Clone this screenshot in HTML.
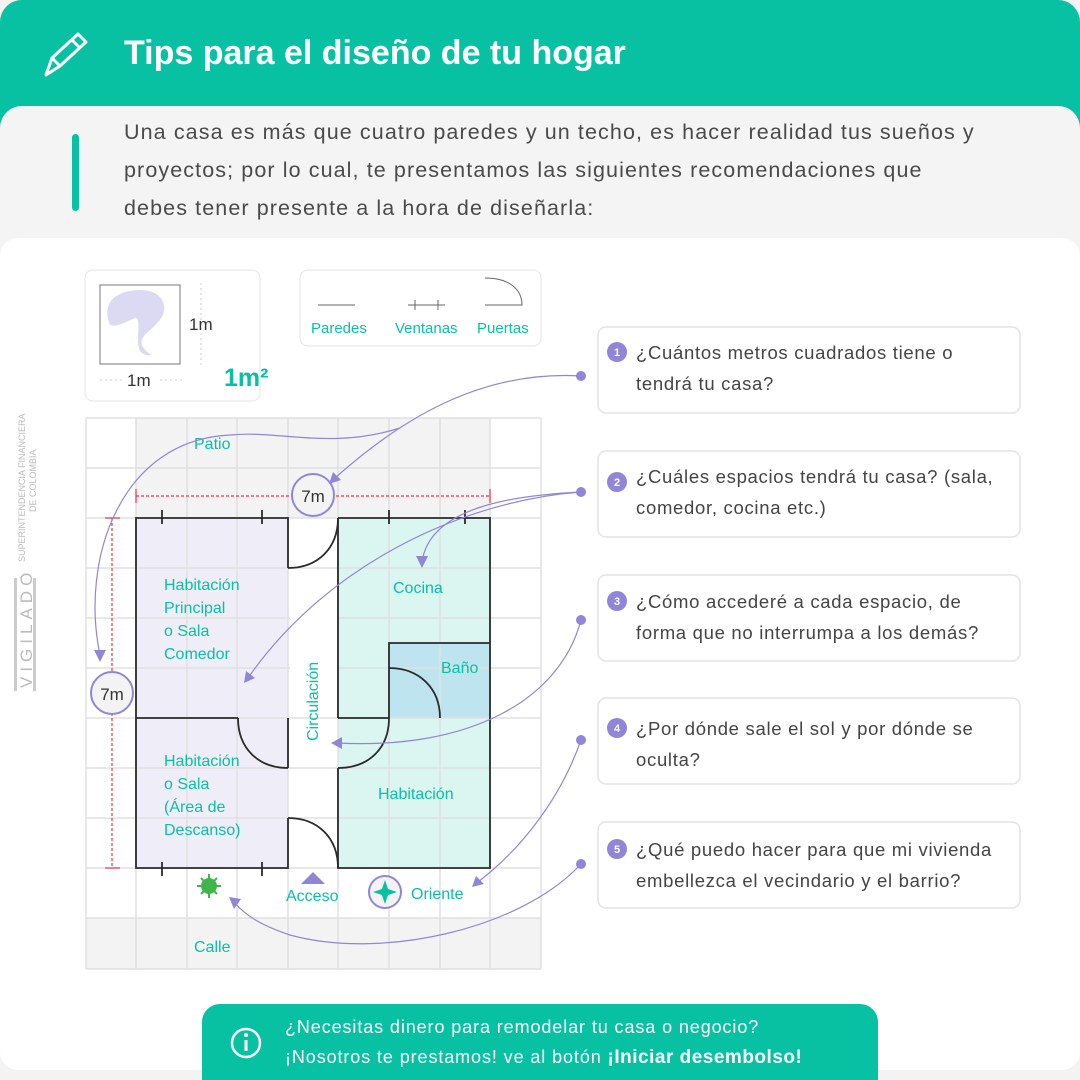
<!DOCTYPE html>
<html><head><meta charset="utf-8"><style>
html,body{margin:0;padding:0;background:#fff}
svg{display:block}
text{font-family:"Liberation Sans",sans-serif}
</style></head><body>
<svg width="1080" height="1080" viewBox="0 0 1080 1080" xmlns="http://www.w3.org/2000/svg">
<rect x="0" y="0" width="1080" height="1080" fill="#f3f3f3"/>
<rect x="0" y="0" width="1080" height="160" rx="22" fill="#08c1a3"/>
<rect x="0" y="106" width="1080" height="200" rx="22" fill="#f4f4f4"/>
<g fill="none" stroke="#fff" stroke-width="3" stroke-linejoin="round">
<path d="M46,75 L52,58 L78,34 L86,42 L60,66 Z"/><path d="M72,40 L80,48"/><path d="M52,58 L60,66"/>
</g>
<text x="124" y="64" font-size="34" font-weight="bold" fill="#fff">Tips para el diseño de tu hogar</text>
<rect x="72" y="134" width="7" height="77" rx="3.5" fill="#08c1a3"/>
<g font-size="21.5" fill="#4a4a4a" letter-spacing="1.1">
<text x="124" y="139">Una casa es más que cuatro paredes y un techo, es hacer realidad tus sueños y</text>
<text x="124" y="177">proyectos; por lo cual, te presentamos las siguientes recomendaciones que</text>
<text x="124" y="215">debes tener presente a la hora de diseñarla:</text>
</g>
<rect x="0" y="238" width="1080" height="832" rx="18" fill="#fff"/>
<text transform="translate(25,562) rotate(-90)" font-size="9" fill="#bbb">SUPERINTENDENCIA FINANCIERA</text>
<text transform="translate(36,512) rotate(-90)" font-size="9" fill="#bbb">DE COLOMBIA</text>
<rect x="14" y="578" width="3" height="113" fill="#ccc"/><rect x="33" y="578" width="3" height="113" fill="#ccc"/>
<text transform="translate(32,688) rotate(-90)" font-size="17" fill="#bbb" letter-spacing="5">VIGILADO</text>
<rect x="85" y="270" width="175" height="131" rx="8" fill="#fff" stroke="#e6e6e6"/>
<rect x="100" y="285" width="80" height="79" fill="#fff" stroke="#777"/>
<path d="M110,325 C100,300 120,290 140,290 C165,290 170,310 158,322 C150,332 140,335 142,345 C145,352 152,355 152,355 C140,357 138,348 138,340 C138,330 140,320 136,318 C128,320 118,328 110,325 Z" fill="#dcdaf2"/>
<line x1="201" y1="283" x2="201" y2="365" stroke="#ccc" stroke-dasharray="2 3"/>
<text x="189" y="330" font-size="17" fill="#333">1m</text>
<line x1="100" y1="380" x2="182" y2="380" stroke="#ccc" stroke-dasharray="2 3"/>
<rect x="122" y="370" width="36" height="20" fill="#fff"/>
<text x="127" y="386" font-size="17" fill="#333">1m</text>
<text x="224" y="386" font-size="25" font-weight="bold" fill="#08c1a3">1m²</text>
<rect x="300" y="270" width="241" height="76" rx="8" fill="#fff" stroke="#e6e6e6"/>
<line x1="318" y1="305" x2="355" y2="305" stroke="#666"/>
<line x1="408" y1="305" x2="445" y2="305" stroke="#666"/><line x1="415" y1="300" x2="415" y2="310" stroke="#666"/><line x1="438" y1="300" x2="438" y2="310" stroke="#666"/>
<path d="M485,305 L522,305 C522,290 510,278 485,278" fill="none" stroke="#666"/>
<g font-size="15" fill="#08c1a3"><text x="311" y="333">Paredes</text><text x="395" y="333">Ventanas</text><text x="477" y="333">Puertas</text></g>
<rect x="86" y="418" width="455" height="551" fill="#fff"/>
<rect x="136" y="418" width="354" height="100" fill="#f3f3f3"/>
<rect x="86" y="918" width="455" height="51" fill="#f3f3f3"/>
<rect x="136" y="518" width="152" height="350" fill="#efedf8"/>
<rect x="338" y="518" width="152" height="350" fill="#dbf5f0"/>
<rect x="389" y="643" width="101" height="75" fill="#bde4ef"/>
<g stroke="#e0e0e0" stroke-width="1.5">
<line x1="86" y1="418" x2="86" y2="969"/><line x1="136" y1="418" x2="136" y2="969"/><line x1="187" y1="418" x2="187" y2="969"/><line x1="237" y1="418" x2="237" y2="969"/><line x1="288" y1="418" x2="288" y2="969"/><line x1="338" y1="418" x2="338" y2="969"/><line x1="389" y1="418" x2="389" y2="969"/><line x1="440" y1="418" x2="440" y2="969"/><line x1="490" y1="418" x2="490" y2="969"/><line x1="541" y1="418" x2="541" y2="969"/>
<line x1="86" y1="418" x2="541" y2="418"/><line x1="86" y1="468" x2="541" y2="468"/><line x1="86" y1="518" x2="541" y2="518"/><line x1="86" y1="568" x2="541" y2="568"/><line x1="86" y1="618" x2="541" y2="618"/><line x1="86" y1="668" x2="541" y2="668"/><line x1="86" y1="718" x2="541" y2="718"/><line x1="86" y1="768" x2="541" y2="768"/><line x1="86" y1="818" x2="541" y2="818"/><line x1="86" y1="868" x2="541" y2="868"/><line x1="86" y1="918" x2="541" y2="918"/><line x1="86" y1="969" x2="541" y2="969"/>
</g>
<rect x="290" y="570" width="47" height="146" fill="#fff"/><rect x="290" y="770" width="47" height="46" fill="#fff"/>
<g fill="none" stroke="#2a2a2a" stroke-width="1.8">
<path d="M288,568 L288,518 L136,518 L136,868 L288,868 L288,818"/>
<path d="M288,718 L288,768 M136,718 L238,718"/>
<path d="M338,518 L490,518 L490,868 L338,868 L338,768 M338,718 L389,718 M338,518 L338,718"/>
<path d="M389,718 L389,643 L490,643"/>
<path d="M338,518 C338,548 318,568 288,568"/>
<path d="M238,718 C238,748 258,768 288,768"/>
<path d="M389,718 C389,748 369,768 338,768"/>
<path d="M288,818 C318,818 338,838 338,868"/>
<path d="M389,668 C419,668 440,688 440,718"/>
<path d="M162,510 v14 M262,510 v14 M389,510 v14 M465,510 v14 M162,862 v14 M262,862 v14"/>
</g>
<g stroke="#f0304a" stroke-width="1.2">
<line x1="136" y1="496" x2="490" y2="496" stroke-dasharray="3 2"/>
<line x1="136" y1="489" x2="136" y2="503"/><line x1="490" y1="489" x2="490" y2="503"/>
<line x1="112" y1="518" x2="112" y2="868" stroke-dasharray="3 2"/>
<line x1="105" y1="518" x2="120" y2="518"/><line x1="105" y1="868" x2="120" y2="868"/>
</g>
<circle cx="313" cy="495" r="21" fill="#f3f3f3" stroke="#8f86d8" stroke-width="2"/>
<text x="313" y="502" font-size="17" fill="#333" text-anchor="middle">7m</text>
<circle cx="112" cy="693" r="21" fill="#f3f3f3" stroke="#8f86d8" stroke-width="2"/>
<text x="112" y="700" font-size="17" fill="#333" text-anchor="middle">7m</text>
<g font-size="16" fill="#08c1a3">
<text x="194" y="449">Patio</text>
<text x="164" y="590">Habitación</text><text x="164" y="613">Principal</text><text x="164" y="636">o Sala</text><text x="164" y="659">Comedor</text>
<text x="393" y="593">Cocina</text><text x="441" y="673">Baño</text>
<text x="164" y="766">Habitación</text><text x="164" y="789">o Sala</text><text x="164" y="812">(Área de</text><text x="164" y="835">Descanso)</text>
<text x="378" y="799">Habitación</text>
<text transform="translate(318,741) rotate(-90)">Circulación</text>
<text x="286" y="901">Acceso</text><text x="411" y="899">Oriente</text>
<text x="194" y="952">Calle</text>
</g>
<path d="M301,884 L313,872 L325,884 Z" fill="#8f86d8"/>
<circle cx="209" cy="886" r="8" fill="#3fb54a"/>
<g stroke="#3fb54a" stroke-width="2"><line x1="209" y1="874" x2="209" y2="898"/><line x1="197" y1="886" x2="221" y2="886"/><line x1="201" y1="878" x2="217" y2="894"/><line x1="217" y1="878" x2="201" y2="894"/></g>
<circle cx="385" cy="892" r="16" fill="#f3f3f3" stroke="#8f86d8" stroke-width="2"/>
<path d="M385,880 L388,889 L397,892 L388,895 L385,904 L382,895 L373,892 L382,889 Z" fill="#08c1a3"/>
<g fill="none" stroke="#8f86d8" stroke-width="1.2">
<path d="M581,376 C480,370 400,420 335,478"/>
<path d="M400,428 C330,450 280,430 230,435 C120,440 80,560 100,655"/>
<path d="M581,492 C520,495 430,505 422,562"/>
<path d="M581,492 C470,500 330,560 248,678"/>
<path d="M581,620 C560,700 470,750 337,743"/>
<path d="M581,740 C560,800 520,850 478,882"/>
<path d="M581,864 C520,930 380,960 290,935 C260,925 245,915 234,902"/>
</g>
<g fill="#8f86d8">
<circle cx="581" cy="376" r="5"/><circle cx="581" cy="492" r="5"/><circle cx="581" cy="620" r="5"/><circle cx="581" cy="740" r="5"/><circle cx="581" cy="864" r="5"/>
<path d="M329,484 L333,472 L341,480 Z"/><path d="M100,662 L94,650 L106,650 Z"/>
<path d="M422,568 L416,556 L428,556 Z"/><path d="M244,683 L246,671 L255,678 Z"/>
<path d="M331,743 L342,737 L342,749 Z"/><path d="M472,887 L476,876 L484,884 Z"/>
<path d="M229,897 L241,899 L234,909 Z"/>
</g>
<g fill="#fff" stroke="#e3e3e3" stroke-width="1.5">
<rect x="598" y="327" width="422" height="86" rx="8"/><rect x="598" y="451" width="422" height="86" rx="8"/><rect x="598" y="575" width="422" height="86" rx="8"/><rect x="598" y="698" width="422" height="86" rx="8"/><rect x="598" y="822" width="422" height="86" rx="8"/>
</g>
<g fill="#8f86d8"><circle cx="617" cy="352" r="10"/><circle cx="617" cy="482" r="10"/><circle cx="617" cy="601" r="10"/><circle cx="617" cy="728" r="10"/><circle cx="617" cy="849" r="10"/></g>
<g font-size="11" fill="#fff" font-weight="bold" text-anchor="middle"><text x="617" y="356">1</text><text x="617" y="486">2</text><text x="617" y="605">3</text><text x="617" y="732">4</text><text x="617" y="853">5</text></g>
<g font-size="18.5" fill="#444" letter-spacing="0.7">
<text x="636" y="359">¿Cuántos metros cuadrados tiene o</text><text x="636" y="390">tendrá tu casa?</text>
<text x="636" y="483">¿Cuáles espacios tendrá tu casa? (sala,</text><text x="636" y="514">comedor, cocina etc.)</text>
<text x="636" y="608">¿Cómo accederé a cada espacio, de</text><text x="636" y="639">forma que no interrumpa a los demás?</text>
<text x="636" y="735">¿Por dónde sale el sol y por dónde se</text><text x="636" y="766">oculta?</text>
<text x="636" y="856">¿Qué puedo hacer para que mi vivienda</text><text x="636" y="887">embellezca el vecindario y el barrio?</text>
</g>
<rect x="202" y="1004" width="676" height="100" rx="18" fill="#08c1a3"/>
<circle cx="246" cy="1043" r="14" fill="none" stroke="#fff" stroke-width="2.5"/>
<circle cx="246" cy="1035" r="2" fill="#fff"/><rect x="244.5" y="1040" width="3" height="11" fill="#fff"/>
<text x="285" y="1033" font-size="18" fill="#fff" letter-spacing="0.9">¿Necesitas dinero para remodelar tu casa o negocio?</text>
<text x="285" y="1063" font-size="18" fill="#fff" letter-spacing="0.9">¡Nosotros te prestamos! ve al botón <tspan font-weight="bold" font-size="19" letter-spacing="0.5"> ¡Iniciar desembolso!</tspan></text>
</svg>
</body></html>
